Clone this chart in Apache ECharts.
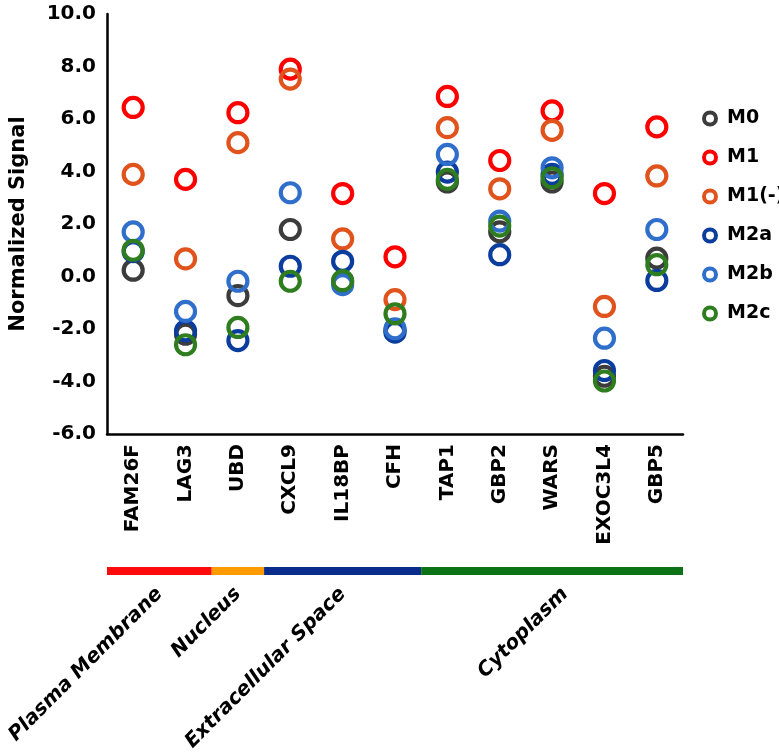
<!DOCTYPE html>
<html>
<head>
<meta charset="utf-8">
<script src="https://cdn.jsdelivr.net/npm/echarts@6/dist/echarts.min.js"></script>
<style>html,body{margin:0;padding:0;background:#fff}#c{width:779px;height:756px}</style>
</head>
<body>
<div id="c"></div>
<script>
var genes = ['FAM26F','LAG3','UBD','CXCL9','IL18BP','CFH','TAP1','GBP2','WARS','EXOC3L4','GBP5'];
var seriesNames = ['M0','M1','M1(-)','M2a','M2b','M2c'];
var M0     = [0.24, -2.2, -0.73, 1.79, -0.2, -2.05, 3.6, 1.7, 3.6, -3.8, 0.7];
var M1     = [6.44, 3.7, 6.24, 7.9, 3.16, 0.75, 6.86, 4.42, 6.31, 3.16, 5.7];
var M1neg  = [3.89, 0.67, 5.1, 7.52, 1.43, -0.88, 5.67, 3.34, 5.57, -1.14, 3.83];
var M2a    = [0.95, -2.07, -2.44, 0.39, 0.58, -2.12, 3.98, 0.83, 3.89, -3.58, -0.15];
var M2b    = [1.7, -1.33, -0.18, 3.19, -0.31, -1.99, 4.65, 2.11, 4.14, -2.35, 1.79];
var M2c    = [1.0, -2.6, -1.94, -0.18, -0.16, -1.42, 3.7, 1.92, 3.76, -3.98, 0.45];
var yTicks = [-6, -4, -2, 0, 2, 4, 6, 8, 10];
var regions = ['Plasma Membrane','Nucleus','Extracellular Space','Cytoplasm'];
var regionStart = [0, 2, 3, 6];
var regionEnd = [1, 2, 5, 10];

var values = [M0, M1, M1neg, M2a, M2b, M2c];
var colors = ['#3c3c3c','#ff0000','#e0531c','#0b3d9e','#2f6fcb','#2e7d1e'];
var regionColors = ['#ff0a0a','#ff9a00','#0a2d8c','#0b7316'];
var labelShift = [0, 0, 0, 13];
var FONT = '"DejaVu Sans", sans-serif';

var chart = echarts.init(document.getElementById('c'));
var series = seriesNames.map(function(n, i){
  return {
    name: n, type: 'scatter', symbol: 'circle', symbolSize: 19,
    itemStyle: {color: 'rgba(255,255,255,0)', borderColor: colors[i], borderWidth: 4.2, opacity: 1},
    data: values[i].map(function(v, j){ return [genes[j], v]; }),
    emphasis: {disabled: true}
  };
});
series.push({
  type: 'custom', name: 'regions', clip: false, silent: true, z: 1,
  encode: {x: [0, 1], y: 2},
  data: regions.map(function(r, i){ return [regionStart[i], regionEnd[i], 0, i]; }),
  renderItem: function(params, api){
    var i = api.value(3);
    var bw = api.size([1, 0])[0];
    var x0 = api.coord([api.value(0), 0])[0] - bw/2;
    var x1 = api.coord([api.value(1), 0])[0] + bw/2;
    var cs = params.coordSys;
    var yb = cs.y + cs.height + 137;
    return {type: 'group', children: [
      {type: 'rect', shape: {x: x0, y: yb - 4, width: x1 - x0, height: 8}, style: {fill: regionColors[i]}},
      {type: 'text', x: (x0 + x1)/2 + labelShift[i], y: yb + 20, rotation: Math.PI/4,
       style: {text: regions[i], align: 'right', verticalAlign: 'middle', fill: '#000',
               font: 'italic bold 20px ' + FONT}}
    ]};
  }
});

chart.setOption({
  animation: false,
  backgroundColor: '#fff',
  grid: {left: 105, right: 96, top: 14, bottom: 322, containLabel: false},
  legend: {
    data: seriesNames, orient: 'vertical', left: 697, top: 104,
    itemWidth: 12, itemHeight: 12, itemGap: 20, icon: 'circle',
    itemStyle: {borderWidth: 4},
    textStyle: {fontFamily: FONT, fontWeight: 'bold', fontSize: 19, lineHeight: 18, color: '#000', padding: [0,0,0,6]},
    selectedMode: false
  },
  xAxis: {
    type: 'category', data: genes, boundaryGap: true,
    axisLine: {show: true, onZero: false, lineStyle: {color: '#000', width: 2.5}},
    axisTick: {show: false},
    axisLabel: {interval: 0, rotate: 90, margin: 10, color: '#000', fontFamily: FONT, fontWeight: 'bold', fontSize: 20},
    splitLine: {show: false}
  },
  yAxis: {
    type: 'value', min: yTicks[0], max: yTicks[yTicks.length-1], interval: 2,
    name: 'Normalized Signal', nameLocation: 'middle', nameGap: 78,
    nameTextStyle: {color: '#000', fontFamily: FONT, fontWeight: 'bold', fontSize: 21},
    axisLine: {show: true, lineStyle: {color: '#000', width: 2.5}},
    axisTick: {show: false},
    axisLabel: {margin: 11, color: '#000', fontFamily: FONT, fontWeight: 'bold', fontSize: 20,
      formatter: function(v){ return v.toFixed(1); }},
    splitLine: {show: false}
  },
  series: series
});
</script>
</body>
</html>
